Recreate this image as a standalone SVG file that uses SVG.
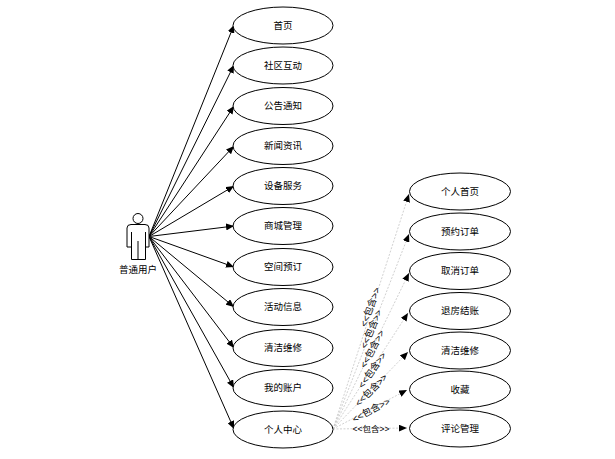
<svg xmlns="http://www.w3.org/2000/svg" width="615" height="459" viewBox="0 0 615 459">
<style>
text{font-family:"Liberation Sans","Noto Sans CJK SC",sans-serif;font-size:9.500px;fill:#000;text-anchor:middle;dominant-baseline:central}
.n ellipse{fill:#fff;stroke:#000;stroke-width:1}
.a line{stroke:#000;stroke-width:1}
.d line{stroke:#c4c4c4;stroke-width:.8;stroke-dasharray:2 1.5}
text.l{font-size:8.500px}
text.r{font-size:9.500px}
.f path,.f circle{fill:#fff;stroke:#000;stroke-width:1}
</style>
<defs>
<marker id="h" markerUnits="userSpaceOnUse" markerWidth="9" markerHeight="7" refX="8" refY="3.500" orient="auto"><path d="M0 0L8 3.500L0 7Z" fill="#000"/></marker>
</defs>
<g id="connectors">
<g class="a">
<line x1="149" y1="236.500" x2="234" y2="25" marker-end="url(#h)"/>
<line x1="149" y1="236.500" x2="234" y2="65" marker-end="url(#h)"/>
<line x1="149" y1="236.500" x2="234" y2="106" marker-end="url(#h)"/>
<line x1="149" y1="236.500" x2="234" y2="146" marker-end="url(#h)"/>
<line x1="149" y1="236.500" x2="234" y2="186" marker-end="url(#h)"/>
<line x1="149" y1="236.500" x2="234" y2="226" marker-end="url(#h)"/>
<line x1="149" y1="236.500" x2="234" y2="267" marker-end="url(#h)"/>
<line x1="149" y1="236.500" x2="234" y2="307" marker-end="url(#h)"/>
<line x1="149" y1="236.500" x2="234" y2="348" marker-end="url(#h)"/>
<line x1="149" y1="236.500" x2="234" y2="388" marker-end="url(#h)"/>
<line x1="149" y1="236.500" x2="234" y2="429" marker-end="url(#h)"/>
</g>
<g class="d">
<line x1="333" y1="429" x2="409" y2="194" marker-end="url(#h)"/>
<line x1="333" y1="429" x2="409" y2="234" marker-end="url(#h)"/>
<line x1="333" y1="429" x2="409" y2="273" marker-end="url(#h)"/>
<line x1="333" y1="429" x2="408" y2="313" marker-end="url(#h)"/>
<line x1="333" y1="429" x2="408" y2="352" marker-end="url(#h)"/>
<line x1="333" y1="429" x2="407" y2="390" marker-end="url(#h)"/>
<line x1="333" y1="429" x2="407" y2="428" marker-end="url(#h)"/>
</g>
<g class="ll">
<text class="r" transform="translate(370 307) rotate(-70)">&lt;&lt;包含&gt;&gt;</text>
<text class="r" transform="translate(371 329) rotate(-67)">&lt;&lt;包含&gt;&gt;</text>
<text class="r" transform="translate(372 349) rotate(-62)">&lt;&lt;包含&gt;&gt;</text>
<text class="r" transform="translate(372 370) rotate(-55)">&lt;&lt;包含&gt;&gt;</text>
<text class="r" transform="translate(371 390) rotate(-45)">&lt;&lt;包含&gt;&gt;</text>
<text class="r" transform="translate(371 410) rotate(-28)">&lt;&lt;包含&gt;&gt;</text>
<text class="l" x="371" y="429">&lt;&lt;包含&gt;&gt;</text>
</g>
</g>
<g id="actor" class="f">
<circle cx="138" cy="218.500" r="5"/>
<path d="M131 224.500H145Q149 224.500 149 228V247H145.500V259.500H131.500V247H127V228Q127 224.500 131 224.500Z"/>
<path d="M131.500 232V247M145.500 232V247M138 241V259.500" fill="none"/>
<text x="138" y="269">普通用户</text>
</g>
<g class="n" id="u1"><ellipse cx="283" cy="25.500" rx="50" ry="18.500"/><text x="283" y="25">首页</text></g>
<g class="n" id="u2"><ellipse cx="283" cy="65.500" rx="50" ry="18.500"/><text x="283" y="65">社区互动</text></g>
<g class="n" id="u3"><ellipse cx="283" cy="106" rx="50" ry="18.500"/><text x="283" y="105.500">公告通知</text></g>
<g class="n" id="u4"><ellipse cx="283" cy="146" rx="50" ry="18.500"/><text x="283" y="145.500">新闻资讯</text></g>
<g class="n" id="u5"><ellipse cx="283" cy="186" rx="50" ry="18.500"/><text x="283" y="185.500">设备服务</text></g>
<g class="n" id="u6"><ellipse cx="283" cy="226" rx="50" ry="18.500"/><text x="283" y="225.500">商城管理</text></g>
<g class="n" id="u7"><ellipse cx="283" cy="267" rx="50" ry="18.500"/><text x="283" y="266.500">空间预订</text></g>
<g class="n" id="u8"><ellipse cx="283" cy="307" rx="50" ry="18.500"/><text x="283" y="306.500">活动信息</text></g>
<g class="n" id="u9"><ellipse cx="283" cy="348" rx="50" ry="18.500"/><text x="283" y="347.500">清洁维修</text></g>
<g class="n" id="u10"><ellipse cx="283" cy="388" rx="50" ry="18.500"/><text x="283" y="387.500">我的账户</text></g>
<g class="n" id="u11"><ellipse cx="283" cy="429.500" rx="50" ry="18.500"/><text x="283" y="429">个人中心</text></g>
<g class="n" id="s1"><ellipse cx="460" cy="191.500" rx="50.500" ry="18.500"/><text x="460" y="191">个人首页</text></g>
<g class="n" id="s2"><ellipse cx="460" cy="231.500" rx="50.500" ry="18.500"/><text x="460" y="231">预约订单</text></g>
<g class="n" id="s3"><ellipse cx="460" cy="271" rx="50.500" ry="18.500"/><text x="460" y="270.500">取消订单</text></g>
<g class="n" id="s4"><ellipse cx="460" cy="311" rx="50.500" ry="18.500"/><text x="460" y="310.500">退房结账</text></g>
<g class="n" id="s5"><ellipse cx="460" cy="350.500" rx="50.500" ry="18.500"/><text x="460" y="350">清洁维修</text></g>
<g class="n" id="s6"><ellipse cx="460" cy="389.500" rx="50.500" ry="18.500"/><text x="460" y="389">收藏</text></g>
<g class="n" id="s7"><ellipse cx="460" cy="428.500" rx="50.500" ry="18.500"/><text x="460" y="428">评论管理</text></g>
</svg>
